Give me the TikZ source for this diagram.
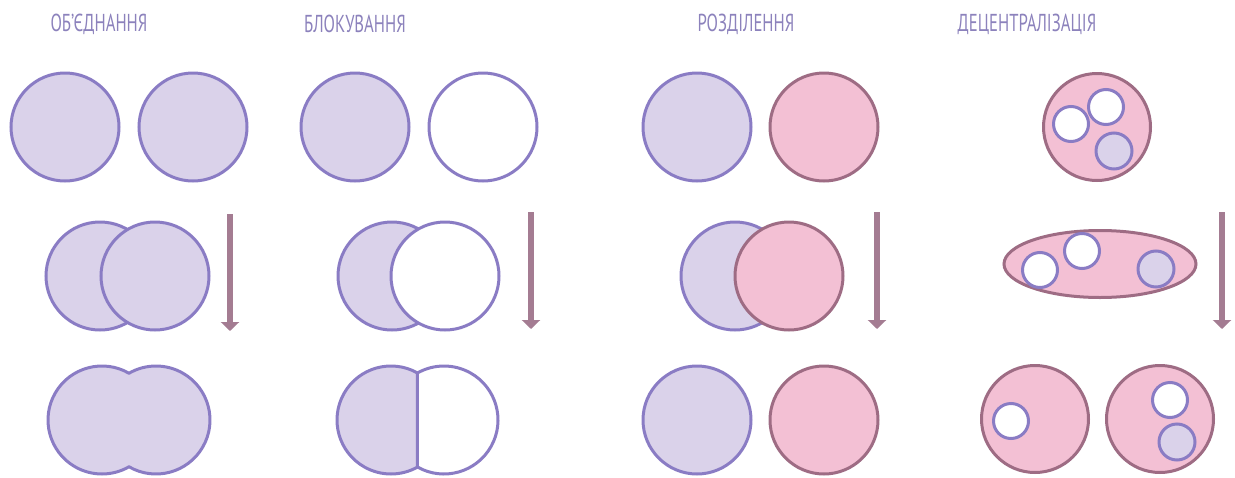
\documentclass[tikz,border=0pt]{standalone}
\usepackage{fontspec}
\setmainfont[FakeStretch=0.68]{PT Sans}
\usetikzlibrary{arrows.meta,shapes.geometric}
\definecolor{pur}{HTML}{8A7CC4}
\definecolor{lav}{HTML}{DAD2EA}
\definecolor{pnk}{HTML}{F3C0D4}
\definecolor{mauve}{HTML}{9E6C84}
\definecolor{arrc}{HTML}{A47C92}
\definecolor{ttl}{HTML}{8C82BC}
\tikzset{
  base/.style={circle,inner sep=0pt,outer sep=0pt,line width=3pt},
  lc/.style={base,draw=pur,fill=lav,minimum size=108pt},
  wc/.style={base,draw=pur,fill=white,minimum size=108pt},
  pc/.style={base,draw=mauve,fill=pnk,minimum size=108pt},
  bigp/.style={base,draw=mauve,fill=pnk,minimum size=107pt},
  sw/.style={base,draw=pur,fill=white,minimum size=35pt},
  sl/.style={base,draw=pur,fill=lav,minimum size=36pt},
  arr/.style={draw=arrc,line width=6pt,-{Triangle[length=9pt,width=18pt]}},
  ttlstyle/.style={text=ttl,font=\fontsize{24.5}{26}\selectfont,inner sep=0pt},
}
\begin{document}
\begin{tikzpicture}[x=1pt,y=-1pt]
\useasboundingbox (0,0) rectangle (1235,477);
% titles
\node[ttlstyle] (t1) at (99,24) {ОБ’ЄДНАННЯ};
\node[ttlstyle] (t2) at (355,24) {БЛОКУВАННЯ};
\node[ttlstyle] (t3) at (746,24) {РОЗДІЛЕННЯ};
\node[ttlstyle] (t4) at (1027,24) {ДЕЦЕНТРАЛІЗАЦІЯ};
% row 1
\node[lc] (a1) at (65,127) {};
\node[lc] (a2) at (193,127) {};
\node[lc] (b1) at (355,127) {};
\node[wc] (b2) at (483,127) {};
\node[lc] (c1) at (697,127) {};
\node[pc] (c2) at (824,127) {};
\node[bigp] (d0) at (1097,127) {};
\node[sw] (d1) at (1071,124) {};
\node[sw] (d2) at (1106,107) {};
\node[sl] (d3) at (1114,151) {};
% row 2
\node[lc] (a3) at (100,276) {};
\node[lc] (a4) at (155,276) {};
\node[lc] (b3) at (392,276) {};
\node[wc] (b4) at (445,276) {};
\node[lc] (c3) at (735,276) {};
\node[pc] (c4) at (789,276) {};
\node[ellipse,inner sep=0pt,line width=3pt,draw=mauve,fill=pnk,minimum width=192pt,minimum height=67pt] (e0) at (1100,264) {};
\node[sw] (e1) at (1040,270) {};
\node[sw] (e2) at (1082,251) {};
\node[sl] (e3) at (1156,269) {};
% arrows
\coordinate (s1) at (230,214); \coordinate (f1) at (230,331);
\coordinate (s2) at (531,212); \coordinate (f2) at (531,329);
\coordinate (s3) at (877,212); \coordinate (f3) at (877,329);
\coordinate (s4) at (1222,212); \coordinate (f4) at (1222,329);
\draw[arr] (s1) -- (f1);
\draw[arr] (s2) -- (f2);
\draw[arr] (s3) -- (f3);
\draw[arr] (s4) -- (f4);
% row 3, merged
\coordinate (m1) at (102,420);
\coordinate (m2) at (156,420);
\path[fill=lav,draw=pur,line width=3pt,line join=round]
  ([shift={(60:54pt)}]m1) arc[start angle=60,end angle=300,radius=54pt]
  arc[start angle=240,end angle=480,radius=54pt] -- cycle;
% row 3, blocking
\coordinate (n1) at (391,420);
\coordinate (n2) at (444,420);
\path[fill=lav,draw=pur,line width=3pt,line join=round]
  ([shift={(60.6:54pt)}]n1) arc[start angle=60.6,end angle=299.4,radius=54pt] -- cycle;
\path[fill=white,draw=pur,line width=3pt,line join=round]
  ([shift={(240.6:54pt)}]n2) arc[start angle=240.6,end angle=479.4,radius=54pt] -- cycle;
% row 3, separation
\node[lc] (c5) at (697,420) {};
\node[pc] (c6) at (824,420) {};
% row 3, decentralisation
\node[bigp] (g1) at (1035,419) {};
\node[sw] (g2) at (1011,421) {};
\node[bigp] (h1) at (1160,419) {};
\node[sw] (h2) at (1170,400) {};
\node[sl] (h3) at (1177,442) {};
\end{tikzpicture}
\end{document}
